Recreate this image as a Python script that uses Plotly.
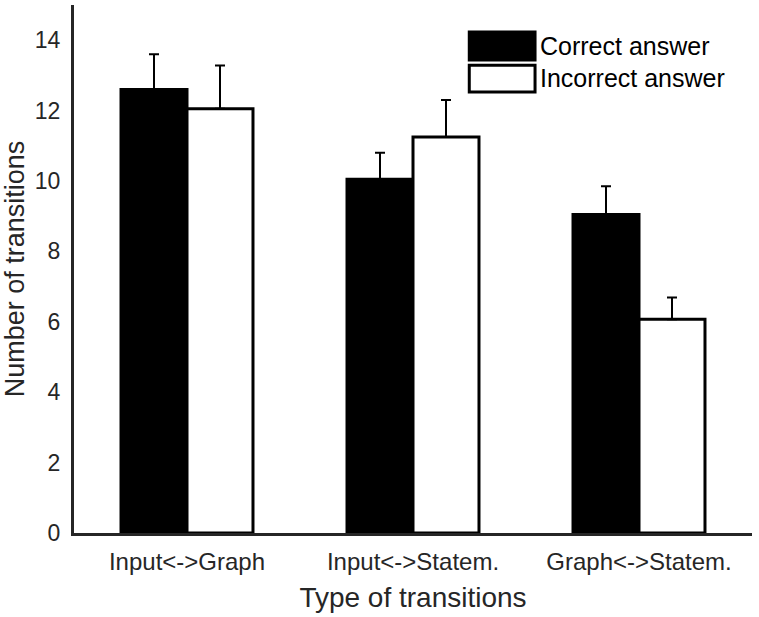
import plotly.graph_objects as go

categories = ["Input<->Graph", "Input<->Statem.", "Graph<->Statem."]
correct = [12.6, 10.05, 9.05]
correct_err = [1.0, 0.75, 0.8]
incorrect = [12.05, 11.25, 6.07]
incorrect_err = [1.23, 1.05, 0.62]
yticks = [0, 2, 4, 6, 8, 10, 12, 14]
legend_labels = ["Correct answer", "Incorrect answer"]

FONT = "Liberation Sans, Arial, sans-serif"
AX = "#262626"

fig = go.Figure()
fig.add_trace(go.Bar(
    x=categories, y=correct, name=legend_labels[0],
    marker=dict(color="black", line=dict(color="black", width=3)),
    error_y=dict(type="data", array=correct_err, arrayminus=[0, 0, 0], symmetric=False,
                 color="black", thickness=2, width=5),
    showlegend=False,
))
fig.add_trace(go.Bar(
    x=categories, y=incorrect, name=legend_labels[1],
    marker=dict(color="white", line=dict(color="black", width=3)),
    error_y=dict(type="data", array=incorrect_err, arrayminus=[0, 0, 0], symmetric=False,
                 color="black", thickness=2, width=5),
    showlegend=False,
))

# legend drawn as boxes + text in paper coordinates
fig.add_shape(type="rect", xref="paper", yref="paper", x0=0.583, x1=0.680, y0=0.896, y1=0.949,
              fillcolor="black", line=dict(color="black", width=3))
fig.add_shape(type="rect", xref="paper", yref="paper", x0=0.583, x1=0.680, y0=0.835, y1=0.886,
              fillcolor="white", line=dict(color="black", width=3))
fig.add_annotation(xref="paper", yref="paper", x=0.685, y=0.922, text=legend_labels[0],
                   showarrow=False, xanchor="left", yanchor="middle",
                   font=dict(family=FONT, size=25, color="black"))
fig.add_annotation(xref="paper", yref="paper", x=0.685, y=0.861, text=legend_labels[1],
                   showarrow=False, xanchor="left", yanchor="middle",
                   font=dict(family=FONT, size=25, color="black"))

fig.update_layout(
    width=759, height=617,
    margin=dict(l=74, r=7, t=5, b=84),
    paper_bgcolor="white", plot_bgcolor="white",
    barmode="group", bargap=0.416, bargroupgap=0,
    font=dict(family=FONT, color=AX),
    xaxis=dict(
        range=[-0.5, 2.5], showline=True, linecolor=AX, linewidth=3, ticks="",
        showgrid=False, zeroline=False, ticklabelstandoff=5,
        tickfont=dict(size=24, color=AX),
        title=dict(text="Type of transitions", font=dict(size=28, color=AX), standoff=14),
        automargin=False,
    ),
    yaxis=dict(
        range=[0, 15], tickvals=yticks, showline=True, linecolor=AX, linewidth=3, ticks="",
        showgrid=False, zeroline=False, ticklabelstandoff=6,
        tickfont=dict(size=23, color=AX),
        title=dict(text="Number of transitions", font=dict(size=27, color=AX), standoff=14),
        automargin=False,
    ),
)

fig.write_html("out.html")
